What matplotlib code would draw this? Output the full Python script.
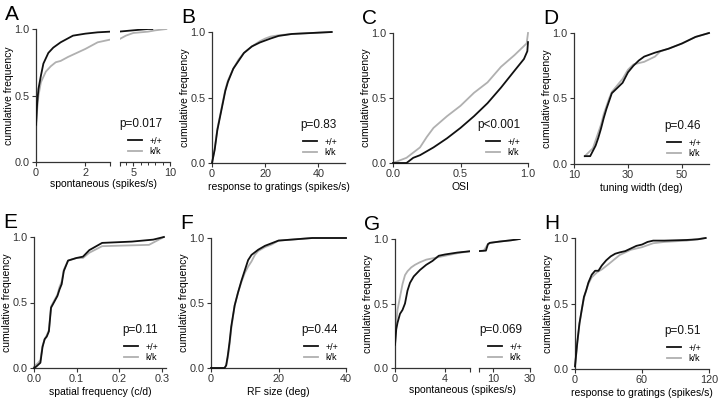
import matplotlib.pyplot as plt
from matplotlib.ticker import FormatStrFormatter, FixedLocator, NullFormatter

plt.rcParams['font.family'] = ['Liberation Sans', 'DejaVu Sans']

W, H = 720, 400
BLACK = '#111111'
GREY = '#b0b0b0'
AXC = '#333333'

genotypes = ['+/+', 'k/k']
letters = ['A', 'B', 'C', 'D', 'E', 'F', 'G', 'H']
p_values = ['p=0.017', 'p=0.83', 'p<0.001', 'p=0.46', 'p=0.11', 'p=0.44', 'p=0.069', 'p=0.51']
xlabels = ['spontaneous (spikes/s)', 'response to gratings (spikes/s)', 'OSI', 'tuning width (deg)',
           'spatial frequency (c/d)', 'RF size (deg)', 'spontaneous (spikes/s)',
           'response to gratings (spikes/s)']

# A: spontaneous rate
a_wt_x = [0, 0.05, 0.1, 0.2, 0.3, 0.5, 0.7, 1.0, 1.5, 2.0, 2.5, 3.0, 4.0, 5.0, 6.0, 7.0, 7.6]
a_wt_y = [0.28, 0.45, 0.55, 0.65, 0.74, 0.82, 0.86, 0.9, 0.95, 0.965, 0.975, 0.98, 0.985, 0.99, 0.995, 1.0, 1.0]
a_kk_x = [0, 0.05, 0.1, 0.2, 0.4, 0.6, 0.8, 1.0, 1.3, 2.0, 2.5, 3.0, 4.0, 5.0, 7.0, 8.0, 9.5]
a_kk_y = [0.25, 0.4, 0.5, 0.6, 0.68, 0.72, 0.75, 0.76, 0.79, 0.85, 0.9, 0.92, 0.95, 0.97, 0.98, 0.99, 1.0]

# B: response to gratings
b_wt_x = [0, 1, 2, 3, 4, 5, 6, 8, 10, 12, 15, 18, 20, 22, 25, 30, 35, 40, 45]
b_wt_y = [0, 0.1, 0.25, 0.35, 0.45, 0.55, 0.62, 0.72, 0.78, 0.84, 0.89, 0.92, 0.935, 0.95, 0.97, 0.985, 0.99, 0.995, 1.0]
b_kk_x = [0, 1, 2, 3, 4, 5, 6, 8, 10, 12, 15, 18, 20, 22, 25, 30, 35, 40, 45]
b_kk_y = [0, 0.11, 0.26, 0.36, 0.46, 0.56, 0.63, 0.72, 0.79, 0.84, 0.89, 0.93, 0.95, 0.965, 0.975, 0.985, 0.99, 0.995, 1.0]

# C: OSI
c_wt_x = [0, 0.1, 0.15, 0.2, 0.3, 0.4, 0.5, 0.6, 0.7, 0.8, 0.9, 0.97, 0.995, 1.0]
c_wt_y = [0, 0.0, 0.04, 0.06, 0.12, 0.19, 0.27, 0.36, 0.46, 0.58, 0.71, 0.8, 0.86, 0.93]
c_kk_x = [0, 0.05, 0.1, 0.2, 0.25, 0.3, 0.4, 0.5, 0.6, 0.7, 0.8, 0.9, 0.99, 1.0]
c_kk_y = [0, 0.02, 0.04, 0.12, 0.2, 0.27, 0.36, 0.44, 0.54, 0.62, 0.74, 0.83, 0.92, 1.0]

# D: tuning width
d_wt_x = [14, 16, 17, 18, 19, 20, 21, 22, 23, 24, 26, 28, 30, 32, 34, 36, 40, 45, 50, 55, 60]
d_wt_y = [0.06, 0.06, 0.1, 0.14, 0.2, 0.27, 0.35, 0.42, 0.48, 0.54, 0.58, 0.62, 0.7, 0.75, 0.79, 0.82, 0.85, 0.88, 0.92, 0.97, 1.0]
d_kk_x = [14, 15, 17, 18, 19, 20, 21, 22, 23, 24, 26, 28, 30, 32, 34, 36, 40, 42, 45, 50, 55, 60]
d_kk_y = [0.06, 0.08, 0.12, 0.18, 0.24, 0.3, 0.38, 0.44, 0.5, 0.55, 0.6, 0.65, 0.72, 0.76, 0.77, 0.78, 0.82, 0.86, 0.88, 0.92, 0.97, 1.0]

# E: spatial frequency
e_wt_x = [0, 0.005, 0.015, 0.02, 0.025, 0.03, 0.035, 0.04, 0.05, 0.055, 0.06, 0.065, 0.07, 0.08, 0.09, 0.1, 0.115, 0.13, 0.16, 0.23, 0.28, 0.305]
e_wt_y = [0, 0.01, 0.04, 0.16, 0.22, 0.24, 0.28, 0.46, 0.52, 0.55, 0.6, 0.64, 0.74, 0.82, 0.83, 0.84, 0.85, 0.9, 0.955, 0.965, 0.98, 1.0]
e_kk_x = [0, 0.01, 0.015, 0.02, 0.025, 0.03, 0.035, 0.04, 0.05, 0.055, 0.06, 0.065, 0.07, 0.08, 0.09, 0.1, 0.115, 0.13, 0.16, 0.27, 0.305]
e_kk_y = [0.01, 0.04, 0.06, 0.17, 0.22, 0.25, 0.29, 0.47, 0.53, 0.56, 0.62, 0.66, 0.75, 0.82, 0.83, 0.84, 0.84, 0.88, 0.93, 0.94, 1.0]

# F: RF size
f_wt_x = [0, 4, 4.5, 5, 5.5, 6, 7, 8, 9, 10, 11, 12, 13, 14, 16, 18, 20, 25, 30, 40]
f_wt_y = [0, 0, 0.02, 0.1, 0.2, 0.32, 0.48, 0.58, 0.67, 0.75, 0.83, 0.87, 0.89, 0.91, 0.94, 0.96, 0.98, 0.99, 1.0, 1.0]
f_kk_x = [0, 4, 4.5, 5, 5.5, 6, 7, 8, 9, 10, 11, 12, 13, 14, 16, 18, 20, 25, 30, 40]
f_kk_y = [0, 0, 0.02, 0.08, 0.18, 0.3, 0.48, 0.58, 0.66, 0.73, 0.78, 0.82, 0.87, 0.9, 0.93, 0.95, 0.98, 0.99, 1.0, 1.0]

# G: spontaneous rate (second cohort)
g_wt_x = [0, 0.1, 0.2, 0.4, 0.6, 0.8, 1.0, 1.2, 1.5, 2.0, 2.5, 3.0, 3.5, 4.0, 5.0, 6.0, 8.0, 8.5, 9.0, 12.0, 17.0, 22.0]
g_wt_y = [0.18, 0.3, 0.35, 0.42, 0.45, 0.5, 0.6, 0.66, 0.71, 0.76, 0.8, 0.83, 0.87, 0.88, 0.895, 0.905, 0.91, 0.96, 0.97, 0.98, 0.99, 1.0]
g_kk_x = [0, 0.1, 0.2, 0.4, 0.6, 0.8, 1.0, 1.3, 1.6, 2.0, 2.5, 3.0, 3.5, 4.0, 5.0, 6.0, 7.5, 8.5, 9.0, 12.0, 17.0, 22.0]
g_kk_y = [0.17, 0.35, 0.45, 0.55, 0.65, 0.72, 0.75, 0.78, 0.8, 0.82, 0.84, 0.85, 0.86, 0.87, 0.89, 0.905, 0.91, 0.96, 0.97, 0.98, 0.99, 1.0]

# H: response to gratings (second cohort)
h_wt_x = [0, 2, 4, 6, 8, 10, 12, 15, 18, 21, 24, 28, 32, 36, 40, 45, 50, 55, 60, 65, 70, 80, 100, 110, 117]
h_wt_y = [0.02, 0.2, 0.35, 0.45, 0.55, 0.6, 0.66, 0.72, 0.75, 0.75, 0.79, 0.83, 0.86, 0.88, 0.89, 0.9, 0.92, 0.94, 0.95, 0.97, 0.98, 0.98, 0.985, 0.99, 1.0]
h_kk_x = [0, 2, 4, 6, 8, 10, 12, 15, 20, 24, 30, 40, 50, 60, 70, 80, 100, 117]
h_kk_y = [0.02, 0.19, 0.34, 0.45, 0.54, 0.6, 0.65, 0.7, 0.74, 0.76, 0.8, 0.87, 0.91, 0.93, 0.96, 0.97, 0.98, 1.0]

fig = plt.figure(figsize=(7.2, 4), dpi=100)


def rect(l, t, r, b):
    return [l / W, 1 - b / H, (r - l) / W, (b - t) / H]


def style(ax, show_y=True):
    ax.spines['top'].set_visible(False)
    ax.spines['right'].set_visible(False)
    for s in ['left', 'bottom']:
        ax.spines[s].set_color(AXC)
        ax.spines[s].set_linewidth(0.9)
    ax.tick_params(direction='out', length=3, width=0.8, labelsize=7.8, pad=1.5, colors=AXC)
    ax.tick_params(which='minor', direction='out', length=1.8, width=0.7, colors=AXC)
    ax.set_ylim(0, 1)
    ax.set_yticks([0, 0.5, 1.0])
    ax.yaxis.set_major_formatter(FormatStrFormatter('%.1f'))
    if show_y:
        ax.set_ylabel('cumulative frequency', fontsize=7.5, labelpad=0.5)
    else:
        ax.spines['left'].set_visible(False)
        ax.tick_params(axis='y', left=False, labelleft=False)
    ax.patch.set_alpha(0)


def curves(ax, wx, wy, kx, ky):
    lw, = ax.plot(wx, wy, color=BLACK, lw=1.3, clip_on=False, zorder=3)
    lk, = ax.plot(kx, ky, color=GREY, lw=1.3, clip_on=False, zorder=2)
    return [lw, lk]


def annotate(ax, box, i, handles):
    l, t, r, b = box
    fig.text((r - 8) / W, 1 - (b - 35) / H, p_values[i], fontsize=8.5, ha='right', va='baseline', color='#111')
    ax.legend(handles, genotypes, loc='lower right', bbox_to_anchor=((r - 8) / W, 1 - (b - 6) / H),
              bbox_transform=fig.transFigure, frameon=False, fontsize=6.5, handlelength=1.6,
              handletextpad=0.8, labelspacing=0.15, borderpad=0, borderaxespad=0)
    fig.text((l - 31) / W, 1 - (t - 24) / H, letters[i], fontsize=15, ha='left', va='top')


def simple(box, i, wx, wy, kx, ky, xlim, xticks, fmt=None):
    ax = fig.add_axes(rect(*box))
    style(ax)
    h = curves(ax, wx, wy, kx, ky)
    ax.set_xlim(*xlim)
    ax.set_xticks(xticks)
    if fmt:
        ax.xaxis.set_major_formatter(FormatStrFormatter(fmt))
    ax.set_xlabel(xlabels[i], fontsize=7.5, labelpad=2)
    annotate(ax, box, i, h)
    return ax


def broken(box, i, split, wx, wy, kx, ky, left_lim, left_ticks, left_labels, right_lim, right_ticks,
           right_minor, log_right=False):
    l, t, r, b = box
    s1, s2 = split
    ax1 = fig.add_axes(rect(l, t, s1, b))
    style(ax1)
    curves(ax1, wx, wy, kx, ky)
    ax1.set_xlim(*left_lim)
    ax1.xaxis.set_major_locator(FixedLocator(left_ticks))
    ax1.set_xticklabels(left_labels)
    ax2 = fig.add_axes(rect(s2, t, r, b))
    style(ax2, show_y=False)
    h = curves(ax2, wx, wy, kx, ky)
    for ln in h:
        ln.set_clip_on(True)
    for ln in ax1.lines:
        ln.set_clip_on(True)
    if log_right:
        ax2.set_xscale('log')
    ax2.set_xlim(*right_lim)
    ax2.xaxis.set_major_locator(FixedLocator(right_ticks))
    ax2.set_xticklabels(['' if v == right_lim[0] else f'{v:g}' for v in right_ticks])
    ax2.xaxis.set_minor_locator(FixedLocator(right_minor))
    ax2.xaxis.set_minor_formatter(NullFormatter())
    fig.text((l + r) / 2 / W, 1 - (b + 25) / H, xlabels[i], fontsize=7.5, ha='center', va='baseline')
    annotate(ax2, box, i, h)


boxes = [(36, 29, 170, 162), (212, 32, 345, 163), (393, 33, 528, 163), (574, 33, 709, 164),
         (34, 237, 166, 368), (211, 238, 346, 368), (395, 239, 530, 368), (575, 238, 709, 369)]

broken(boxes[0], 0, (110, 120), a_wt_x, a_wt_y, a_kk_x, a_kk_y, (0, 3), [0, 2, 3], ['0', '2', ''],
       (3.2, 10), [3.2, 5, 10], [4, 6, 7, 8, 9])
simple(boxes[1], 1, b_wt_x, b_wt_y, b_kk_x, b_kk_y, (0, 50), [0, 20, 40])
simple(boxes[2], 2, c_wt_x, c_wt_y, c_kk_x, c_kk_y, (0, 1), [0, 0.5, 1.0], '%.1f')
simple(boxes[3], 3, d_wt_x, d_wt_y, d_kk_x, d_kk_y, (10, 60), [10, 30, 50])
simple(boxes[4], 4, e_wt_x, e_wt_y, e_kk_x, e_kk_y, (0, 0.31), [0, 0.1, 0.2, 0.3], '%.1f')
simple(boxes[5], 5, f_wt_x, f_wt_y, f_kk_x, f_kk_y, (0, 40), [0, 20, 40])
broken(boxes[6], 6, (470, 479), g_wt_x, g_wt_y, g_kk_x, g_kk_y, (0, 6), [0, 4, 6], ['0', '4', ''],
       (6.5, 30), [6.5, 10, 30], [], log_right=True)
simple(boxes[7], 7, h_wt_x, h_wt_y, h_kk_x, h_kk_y, (0, 120), [0, 60, 120])

fig.savefig('out.png', dpi=100)
